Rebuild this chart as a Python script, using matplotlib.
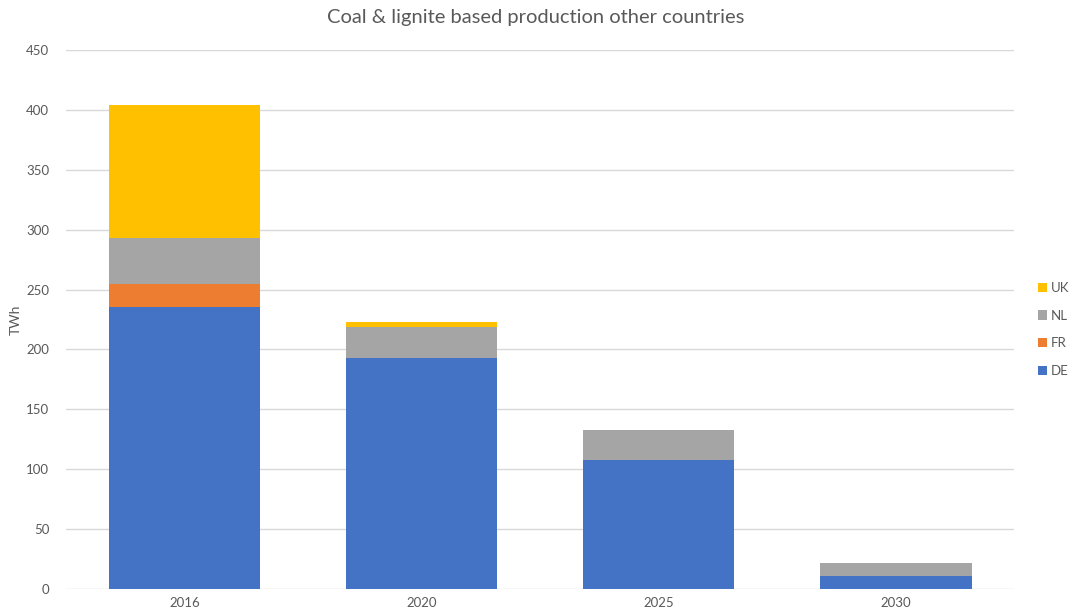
import numpy as np
import matplotlib
matplotlib.use("Agg")
import matplotlib.pyplot as plt

# coal & lignite production per country, TWh
years = ["2016", "2020", "2025", "2030"]
de = [235, 193, 108, 11]
fr = [20, 0, 0, 0]
nl = [38, 26, 25, 10.5]
uk = [111, 4, 0, 0]

COLORS = {"DE": "#4472C4", "FR": "#ED7D31", "NL": "#A5A5A5", "UK": "#FFC000"}
TXT = "#595959"
GRID = "#D9D9D9"

plt.rcParams["font.family"] = ["Lato", "DejaVu Sans"]

fig = plt.figure(figsize=(10.71, 6.16), dpi=100)
ax = fig.add_axes([0.0616, 0.0438, 0.8854, 0.8752])

x = np.arange(len(years))
w = 0.64
bottom = np.zeros(len(years))
handles = []
for name, vals in [("DE", de), ("FR", fr), ("NL", nl), ("UK", uk)]:
    vals = np.array(vals, dtype=float)
    b = ax.bar(x, vals, w, bottom=bottom, color=COLORS[name], label=name,
               linewidth=0, zorder=3)
    handles.append(b)
    bottom += vals

ax.set_xlim(-0.5, len(years) - 0.5)
ax.set_ylim(0, 450)
ax.set_yticks(range(0, 451, 50))
ax.set_xticks(x)
ax.set_xticklabels(years)
ax.tick_params(length=0, colors=TXT, labelsize=9.5)
ax.tick_params(axis="y", pad=12)
ax.tick_params(axis="x", pad=6)
ax.yaxis.grid(True, color=GRID, linewidth=1, zorder=0)
for s in ax.spines.values():
    s.set_visible(False)

fig.text(0.015, 0.481, "TWh", rotation=90, ha="center", va="center",
         color=TXT, fontsize=10)
fig.text(0.5, 0.972, "Coal & lignite based production other countries",
         ha="center", va="center", fontsize=14.5, color=TXT)

leg = fig.legend(handles[::-1], ["UK", "NL", "FR", "DE"], loc="center left",
                 bbox_to_anchor=(0.969, 0.465), frameon=False, fontsize=9.5,
                 labelcolor=TXT, handlelength=0.7, handleheight=0.7,
                 handletextpad=0.3, labelspacing=1.2, borderpad=0,
                 borderaxespad=0)

fig.savefig("out.png", dpi=100)
